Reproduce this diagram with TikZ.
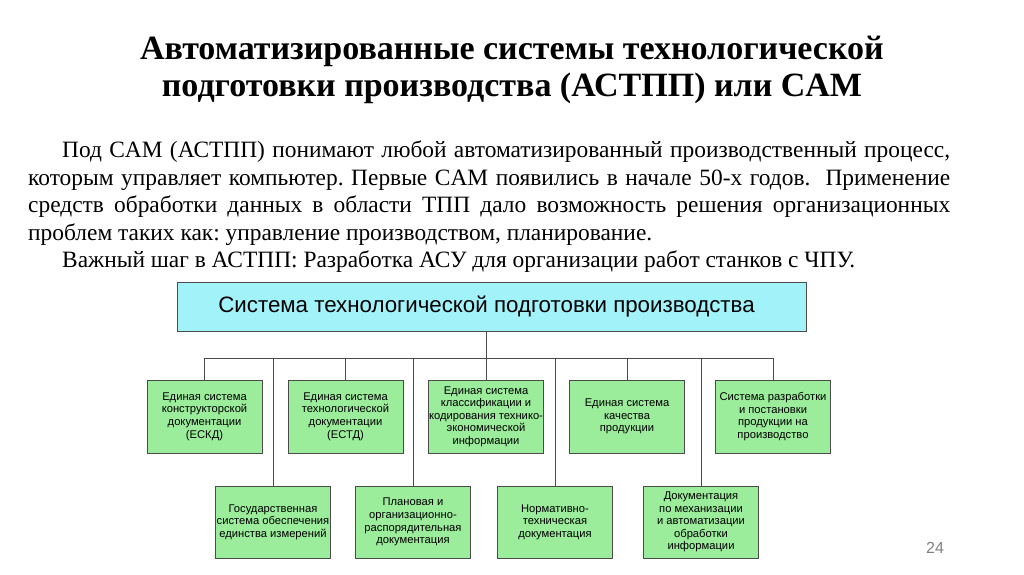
\documentclass[tikz,border=0pt]{standalone}
\usepackage{fontspec}
\setmainfont{Liberation Serif}
\newfontfamily\boxfont{Liberation Sans}
\usepackage{xcolor}
\usepackage{tikz}
\definecolor{boxgreen}{RGB}{155,236,155}
\definecolor{boxcyan}{RGB}{162,242,250}
\definecolor{linegray}{RGB}{75,75,75}
\frenchspacing

\begin{document}
\begin{tikzpicture}[x=1pt, y=-1pt,
    topbox/.style={draw=linegray, fill=boxcyan, line width=0.9pt, minimum width=629pt, minimum height=49pt, inner sep=0pt, font=\boxfont\fontsize{22.3}{26}\selectfont},
    unit/.style={draw=linegray, fill=boxgreen, line width=0.9pt, minimum width=115pt, minimum height=73pt, inner sep=0pt, align=center, font=\boxfont\fontsize{11.2}{12.6}\selectfont},
    wire/.style={draw=linegray, line width=0.9pt}]
            \useasboundingbox (0,0) rectangle (1024,574);

            % Title
            \node[align=center, font=\bfseries\fontsize{34}{37}\selectfont] (Title) at (512,70) {Автоматизированные системы технологической\\подготовки производства (АСТПП) или CAM};

            % Text
            \node[anchor=north west, inner sep=0pt, text width=922pt, align=justify, font=\fontsize{23.4}{27.5}\selectfont] (Intro) at (28,141)
            {\noindent\hspace*{34pt}Под CAM (АСТПП) понимают любой автоматизированный производственный процесс,\linebreak
            которым управляет компьютер. Первые CAM появились в начале 50-х годов. \ Применение\linebreak
            средств обработки данных в области ТПП дало возможность решения организационных\linebreak
            проблем таких как: управление производством, планирование.\par
            \noindent\hspace*{34pt}Важный шаг в АСТПП: Разработка АСУ для организации работ станков с ЧПУ.};

            % Top box
            \node[topbox] (System) at (491.5,306.5) {\hspace*{-10pt}Система технологической подготовки производства};

            % Upper row
            \foreach \i/\x/\txt in {1/204.5/{Единая система\\конструкторской\\документации\\(ЕСКД)},
                                    2/345.5/{Единая система\\технологической\\документации\\(ЕСТД)},
                                    3/486/{Единая система\\классификации и\\кодирования технико-\\экономической\\информации},
                                    4/627/{Единая система\\качества\\продукции},
                                    5/773/{Система разработки\\и постановки\\продукции на\\производство}}
            {
                \node[unit] (Upper-\i) at (\x,416.5) {\txt};
            }

            % Lower row
            \foreach \i/\x/\txt in {1/273/{Государственная\\система обеспечения\\единства измерений},
                                    2/413/{Плановая и\\организационно-\\распорядительная\\документация},
                                    3/555/{Нормативно-\\техническая\\документация},
                                    4/701/{Документация\\по механизации\\и автоматизации\\обработки\\информации}}
            {
                \node[unit, minimum height=72pt] (Lower-\i) at (\x,522) {\txt};
            }

            % Connections
            \coordinate (Bus) at (0,358);
            \draw[wire] (Upper-3.north |- System.south) -- (Upper-3.north);
            \draw[wire] (Upper-1.north |- Bus) -- (Upper-5.north |- Bus);
            \foreach \i in {1,...,5}
            {
                \draw[wire] (Upper-\i.north |- Bus) -- (Upper-\i.north);
            }
            \foreach \i in {1,...,4}
            {
                \draw[wire] (Lower-\i.north |- Bus) -- (Lower-\i.north);
            }

            % Page number
            \node[text=gray, font=\boxfont\fontsize{16}{16}\selectfont] (PageNo) at (935,548) {24};

        \end{tikzpicture}
\end{document}
